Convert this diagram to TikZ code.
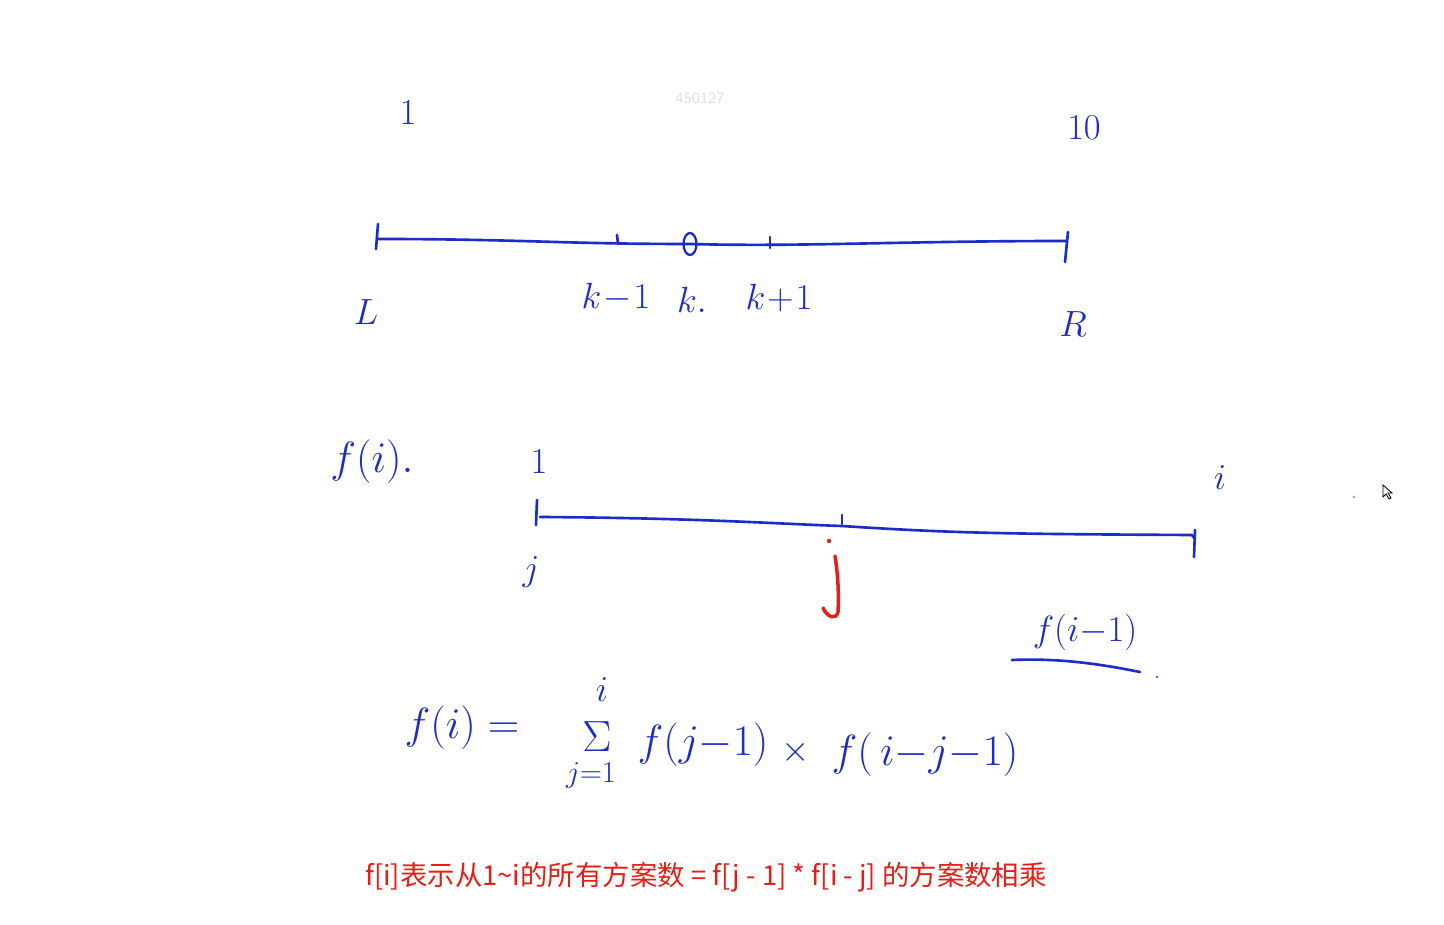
\documentclass[tikz,border=0pt]{standalone}
\usepackage{fontspec}
\newfontfamily\cjk{Noto Sans CJK SC}
\usetikzlibrary{shapes.geometric}
\definecolor{penblue}{RGB}{28,44,200}
\definecolor{penred}{RGB}{232,30,22}
\tikzset{
  pen/.style={draw=penblue,line width=1.5pt,line cap=round,line join=round},
  redpen/.style={draw=penred,line width=2pt,line cap=round,line join=round},
  hw/.style={text=penblue,inner sep=0pt,font=\fontsize{20}{24}\selectfont},
  hwbig/.style={text=penblue,inner sep=0pt,font=\fontsize{25}{30}\selectfont},
}
\begin{document}
\begin{tikzpicture}[x=0.02cm,y=-0.02cm]
\useasboundingbox[fill=white] (0,0) rectangle (1444,925);
% watermark
\node[text=black!12,font=\sffamily\small] (wm) at (700,98) {450127};
% ---------- top segment ----------
\node[hw] (one) at (408,113) {$1$};
\node[hw] (ten) at (1084,128) {$10$};
\coordinate (A) at (377,239);
\coordinate (K) at (690,244);
\coordinate (B) at (1066,241);
\draw[pen] (A) .. controls (520,239) and (560,244) .. (K) .. controls (800,247) and (900,241) .. (B);
\draw[pen] (378,224) -- (376,249);
\draw[pen] (1068,232) -- (1065,262);
\draw[pen] (617,235) -- (618,244);
\draw[pen] (770,237) -- (770,248);
\node[pen,ellipse,minimum width=0.26cm,minimum height=0.44cm,inner sep=0pt,line width=1.3pt] (circ) at (K) {};
\node[hw] (lL) at (366,312) {$L$};
\node[hw] (lkm) at (616,297) {$k\!-\!1$};
\node[hw] (lk) at (692,300) {$k.$};
\node[hw] (lkp) at (779,298) {$k\!+\!1$};
\node[hw] (lR) at (1073,324) {$R$};
% ---------- middle segment ----------
\node[hwbig] (fi) at (372,462) {$f(i).$};
\node[hw] (one2) at (539,462) {$1$};
\node[hw] (lj) at (531,572) {$j$};
\node[hw] (li) at (1220,478) {$i$};
\coordinate (C) at (540,517);
\coordinate (M) at (842,526);
\coordinate (D) at (1192,535);
\draw[pen] (C) .. controls (700,518) and (780,524) .. (M) .. controls (950,533) and (1000,534) .. (D) -- (1195,539);
\draw[pen] (537,500) -- (536,525);
\draw[pen] (1195,530) -- (1194,557);
\draw[pen] (842,515) -- (842,524);
% red j
\fill[penred] (829,541) circle (2.2);
\draw[redpen] (835,556) .. controls (838,575) and (839,595) .. (838,612) .. controls (836,620) and (828,618) .. (823,608);
% f(i-1) underlined
\node[hw] (fim) at (1085,632) {$f(i{-}1)$};
\coordinate (U1) at (1012,660);
\coordinate (U2) at (1140,672);
\draw[pen] (U1) .. controls (1060,658) and (1100,664) .. (U2);
\fill[penblue] (1157,677) circle (1.2);
% ---------- formula ----------
\node[hwbig] (fl) at (462,728) {$f(i) =$};
\node[hw] (sigtop) at (602,690) {$i$};
\node[hwbig] (sig) at (597,737) {$\Sigma$};
\node[hw,font=\fontsize{17}{20}\selectfont] (sigbot) at (591,775) {$j{=}1$};
\node[hwbig] (f1) at (703,745) {$f(j{-}1)$};
\node[hw] (times) at (796,752) {$\times$};
\node[hwbig] (f2) at (925,755) {$f(\,i{-}j{-}1)$};
% ---------- red caption ----------
\node[text=penred,inner sep=0pt,font=\cjk\fontsize{15.6}{18}\selectfont] (cap) at (706,877) {f[i]表示从1\textasciitilde i的所有方案数 = f[j - 1] * f[i - j] 的方案数相乘};
% cursor and dot
\fill[black!35] (1354,497) circle (1.5);
\draw[black,line width=0.5pt,fill=white] (1383,485) -- (1383,497) -- (1386,494) -- (1389,499) -- (1391,498) -- (1388,493) -- (1392,493) -- cycle;
\end{tikzpicture}
\end{document}
